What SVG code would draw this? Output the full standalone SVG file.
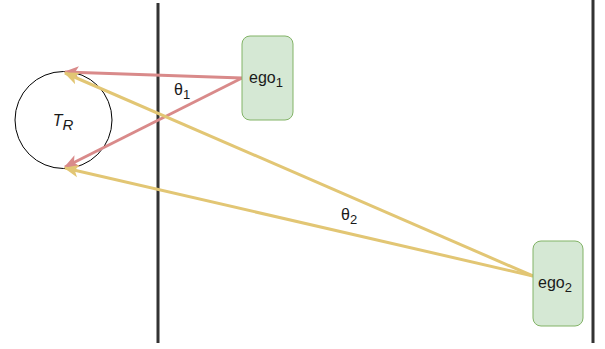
<svg xmlns="http://www.w3.org/2000/svg" width="605" height="349" viewBox="0 0 605 349">
<style>
.wall{stroke:#333;stroke-width:3;fill:none}
.node{fill:#d5e8d4;stroke:#82b366;stroke-width:1}
.lbl{font-family:"Liberation Sans",Arial,sans-serif;font-size:16px;fill:#1a1a1a}
.red{stroke:#d98a8a;stroke-width:3;fill:none}
.yel{stroke:#e2c674;stroke-width:3;fill:none}
</style>
<defs>
<marker id="ar" viewBox="0 0 12 10" refX="11" refY="5" markerWidth="5" markerHeight="5" orient="auto" markerUnits="strokeWidth">
<path d="M0,0 L12,5 L0,10 L3,5 Z" fill="#d98a8a"/>
</marker>
<marker id="ay" viewBox="0 0 12 10" refX="11" refY="5" markerWidth="5" markerHeight="5" orient="auto" markerUnits="strokeWidth">
<path d="M0,0 L12,5 L0,10 L3,5 Z" fill="#e2c674"/>
</marker>
</defs>
<line class="wall" x1="158" y1="3" x2="158" y2="343"/>
<line class="wall" x1="593" y1="0" x2="593" y2="343"/>
<g id="target">
<circle cx="63.5" cy="120" r="48.5" fill="#fff" stroke="#000" stroke-width="1"/>
<text class="lbl" x="63" y="126" text-anchor="middle" font-style="italic" font-size="20">T<tspan font-size="15" dy="4">R</tspan></text>
</g>
<g id="connectors">
<line class="red" x1="242" y1="78" x2="65" y2="72" marker-end="url(#ar)"/>
<line class="red" x1="242" y1="78" x2="65" y2="167" marker-end="url(#ar)"/>
<line class="yel" x1="533" y1="276" x2="65" y2="73" marker-end="url(#ay)"/>
<line class="yel" x1="533" y1="276" x2="65" y2="168" marker-end="url(#ay)"/>
</g>
<g id="ego1">
<rect class="node" x="242" y="36" width="51" height="84" rx="8"/>
<text class="lbl" x="249" y="83">ego<tspan font-size="13" dy="4">1</tspan></text>
</g>
<g id="ego2">
<rect class="node" x="533" y="241" width="50" height="85" rx="8"/>
<text class="lbl" x="538" y="288">ego<tspan font-size="13" dy="4">2</tspan></text>
</g>
<text class="lbl" x="174" y="95">θ<tspan font-size="13" dy="4">1</tspan></text>
<text class="lbl" x="341" y="220">θ<tspan font-size="13" dy="4">2</tspan></text>
</svg>
